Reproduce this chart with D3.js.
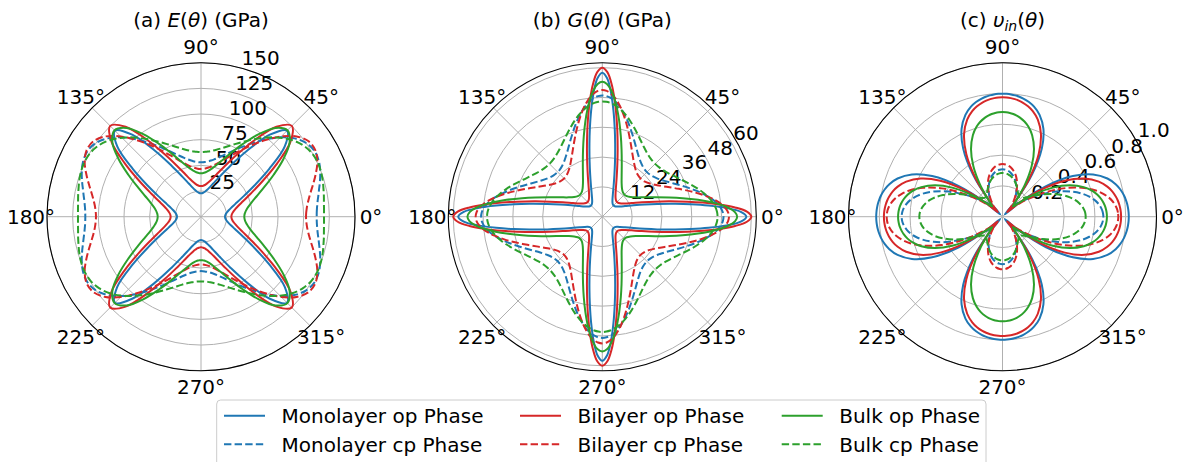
<!DOCTYPE html>
<html>
<head>
<meta charset="utf-8">
<script src="https://cdn.jsdelivr.net/npm/d3@7"></script>
<style>
body { margin: 0; background: #ffffff; }
svg { display: block; font-family: "DejaVu Sans", sans-serif; }
</style>
</head>
<body>
<svg id="chart" width="1184" height="462"></svg>
<script>
// Polar plots of E, G and in-plane Poisson ratio for the six phases.
// The curves are mirror symmetric about both axes, so only 0-90 deg is listed.

var angles = [0, 2, 4, 6, 8, 10, 13, 16, 20, 25, 30, 35, 40, 45, 50, 55, 60, 65, 70, 74, 77, 80, 82, 84, 86, 88, 90];

// (a) Young's modulus, GPa
var youngMonoOp = [23.4, 23.49, 23.77, 24.25, 24.93, 25.85, 27.71, 30.27, 35.13, 44.49, 59.27, 81.16, 106.5, 118.5, 104.3, 78.7, 57.36, 43.1, 34.1, 29.42, 26.95, 25.16, 24.28, 23.62, 23.16, 22.89, 22.8];
var youngMonoCp = [112.7, 112.8, 113.2, 113.9, 114.8, 116.0, 118.0, 120.4, 123.6, 126.8, 127.7, 125.1, 118.7, 109.3, 98.4, 87.6, 77.94, 69.86, 63.5, 59.58, 57.29, 55.51, 54.6, 53.89, 53.4, 53.1, 53.0];
var youngBiOp = [29.6, 29.71, 30.04, 30.61, 31.42, 32.5, 34.68, 37.65, 43.2, 53.55, 69.1, 90.6, 113.8, 125.1, 114.3, 91.2, 69.6, 53.97, 43.53, 37.93, 34.92, 32.72, 31.63, 30.82, 30.25, 29.91, 29.8];
var youngBiCp = [102.3, 102.5, 103.1, 104.0, 105.3, 106.9, 109.9, 113.5, 118.7, 125.0, 128.8, 128.0, 121.6, 110.5, 97.4, 84.6, 73.4, 64.35, 57.44, 53.3, 50.9, 49.07, 48.13, 47.41, 46.9, 46.6, 46.5];
var youngBulkOp = [42.2, 42.33, 42.73, 43.41, 44.37, 45.64, 48.17, 51.53, 57.52, 67.89, 81.73, 98.03, 112.7, 119.0, 112.9, 98.22, 81.92, 68.06, 57.67, 51.66, 48.28, 45.75, 44.48, 43.51, 42.84, 42.43, 42.3];
var youngBulkCp = [119.8, 119.9, 120.1, 120.4, 120.9, 121.5, 122.4, 123.5, 124.7, 125.4, 124.4, 121.3, 116.0, 108.8, 100.7, 92.4, 84.7, 78.04, 72.54, 69.06, 66.98, 65.34, 64.5, 63.84, 63.37, 63.1, 63.0];

// (b) shear modulus, GPa
var shearMonoOp = [58.0, 55.8, 50.15, 42.98, 35.93, 29.8, 22.71, 17.73, 13.36, 10.09, 8.21, 7.12, 6.56, 6.38, 6.56, 7.12, 8.21, 10.09, 13.36, 17.73, 22.71, 29.8, 35.93, 42.98, 50.15, 55.8, 58.0];
var shearMonoCp = [48.8, 48.58, 47.94, 46.93, 45.61, 44.05, 41.46, 38.77, 35.35, 31.68, 28.86, 26.91, 25.78, 25.4, 25.78, 26.91, 28.86, 31.68, 35.35, 38.77, 41.46, 44.05, 45.61, 46.93, 47.94, 48.58, 48.8];
var shearBiOp = [60.0, 58.25, 53.6, 47.38, 40.87, 34.87, 27.47, 21.97, 16.92, 13.0, 10.67, 9.31, 8.6, 8.38, 8.6, 9.31, 10.67, 13.0, 16.92, 21.97, 27.47, 34.87, 40.87, 47.38, 53.6, 58.25, 60.0];
var shearBiCp = [51.0, 50.67, 49.7, 48.2, 46.27, 44.07, 40.52, 37.02, 32.78, 28.5, 25.39, 23.31, 22.13, 21.75, 22.13, 23.31, 25.39, 28.5, 32.78, 37.02, 40.52, 44.07, 46.27, 48.2, 49.7, 50.67, 51.0];
var shearBulkOp = [54.3, 53.44, 51.02, 47.49, 43.37, 39.13, 33.17, 28.12, 22.91, 18.44, 15.57, 13.83, 12.88, 12.58, 12.88, 13.83, 15.57, 18.44, 22.91, 28.12, 33.17, 39.13, 43.37, 47.49, 51.02, 53.44, 54.3];
var shearBulkCp = [46.4, 46.28, 45.92, 45.34, 44.56, 43.63, 42.02, 40.27, 37.91, 35.2, 32.99, 31.38, 30.41, 30.09, 30.41, 31.38, 32.99, 35.2, 37.91, 40.27, 42.02, 43.63, 44.56, 45.34, 45.92, 46.28, 46.4];

// (c) in-plane Poisson ratio
var poissonMonoOp = [0.82, 0.8192, 0.8169, 0.8132, 0.8076, 0.8004, 0.7854, 0.7644, 0.7251, 0.6489, 0.5274, 0.3458, 0.1314, 0.0217, 0.1287, 0.3353, 0.5104, 0.6287, 0.7038, 0.743, 0.7639, 0.7791, 0.7865, 0.7921, 0.796, 0.7982, 0.799];
var poissonMonoCp = [0.655, 0.653, 0.6476, 0.6388, 0.6261, 0.6102, 0.5788, 0.5402, 0.4775, 0.3859, 0.2903, 0.2059, 0.1467, 0.1196, 0.1216, 0.1442, 0.1772, 0.2126, 0.2453, 0.2673, 0.281, 0.292, 0.2978, 0.3022, 0.3055, 0.3074, 0.308];
var poissonBiOp = [0.77, 0.7692, 0.7665, 0.7623, 0.756, 0.7479, 0.7311, 0.708, 0.6655, 0.5862, 0.4669, 0.3028, 0.1267, 0.0423, 0.1272, 0.3048, 0.4703, 0.5908, 0.6706, 0.7132, 0.7361, 0.7529, 0.7611, 0.7675, 0.7719, 0.7743, 0.7752];
var poissonBiCp = [0.752, 0.7502, 0.7447, 0.7349, 0.7213, 0.7034, 0.6686, 0.6241, 0.5492, 0.4353, 0.3099, 0.1957, 0.1163, 0.0836, 0.0931, 0.1294, 0.1766, 0.2241, 0.2658, 0.2931, 0.3097, 0.3229, 0.3297, 0.335, 0.3388, 0.3411, 0.3418];
var poissonBulkOp = [0.678, 0.677, 0.6739, 0.6688, 0.6614, 0.6518, 0.6326, 0.607, 0.5613, 0.4826, 0.3774, 0.2537, 0.1423, 0.0954, 0.1426, 0.2542, 0.3783, 0.4838, 0.5628, 0.6086, 0.6341, 0.6534, 0.663, 0.6703, 0.6756, 0.6785, 0.6796];
var poissonBulkCp = [0.54, 0.5388, 0.5346, 0.5276, 0.5182, 0.5062, 0.4831, 0.4555, 0.4116, 0.3504, 0.2882, 0.234, 0.1943, 0.1727, 0.1687, 0.1782, 0.1962, 0.218, 0.2395, 0.2547, 0.2644, 0.2722, 0.2764, 0.2797, 0.2821, 0.2836, 0.284];

var thetaTicks = [0, 45, 90, 135, 180, 225, 270, 315];
var youngTicks = [25, 50, 75, 100, 125, 150];
var shearTicks = [12, 24, 36, 48, 60];
var poissonTicks = [0.2, 0.4, 0.6, 0.8, 1.0];
var seriesNames = ["Monolayer op Phase", "Monolayer cp Phase", "Bilayer op Phase", "Bilayer cp Phase", "Bulk op Phase", "Bulk cp Phase"];

// ---------

var BLUE = "#1f77b4", RED = "#d62728", GREEN = "#2ca02c";
var LINE_STYLES = [
    {color: BLUE, dash: null}, {color: BLUE, dash: "7.4,3.2"},
    {color: RED, dash: null}, {color: RED, dash: "7.4,3.2"},
    {color: GREEN, dash: null}, {color: GREEN, dash: "7.4,3.2"}
];
var FONT_SIZE = 20;
var RADIUS = 154;
var CENTER_Y = 216.7;

var svg = d3.select("#chart");
svg.append("rect").attr("width", 1184).attr("height", 462).attr("fill", "#ffffff");

// theta in degrees counter-clockwise from east -> d3 radial angle
var angleScale = d3.scaleLinear().domain([0, 360]).range([Math.PI / 2, Math.PI / 2 - 2 * Math.PI]);

// unfold the 0-90 deg values into a closed 0-360 deg loop
function fullCircle(values) {
    var pts = [], i, n = angles.length;
    for (i = 0; i < n; i++) pts.push([angles[i], values[i]]);
    for (i = n - 2; i >= 0; i--) pts.push([180 - angles[i], values[i]]);
    for (i = 1; i < n; i++) pts.push([180 + angles[i], values[i]]);
    for (i = n - 2; i > 0; i--) pts.push([360 - angles[i], values[i]]);
    return pts;
}

function PolarPanel(cx, rMax) {
    this.g = svg.append("g").attr("transform", "translate(" + cx + "," + CENTER_Y + ")");
    this.r = d3.scaleLinear().domain([0, rMax]).range([0, RADIUS]);
}

PolarPanel.prototype.drawGrid = function(ticks, labelAngle, fmt) {
    var r = this.r, g = this.g;
    g.selectAll("circle.ring").data(ticks).enter().append("circle")
        .attr("class", "ring")
        .attr("r", function(d) { return r(d); })
        .attr("fill", "none").attr("stroke", "#b0b0b0").attr("stroke-width", 1);
    g.selectAll("line.spoke").data(thetaTicks).enter().append("line")
        .attr("class", "spoke")
        .attr("x2", function(d) { return d3.pointRadial(angleScale(d), RADIUS)[0]; })
        .attr("y2", function(d) { return d3.pointRadial(angleScale(d), RADIUS)[1]; })
        .attr("stroke", "#b0b0b0").attr("stroke-width", 1);
    g.append("circle").attr("r", RADIUS)
        .attr("fill", "none").attr("stroke", "#000000").attr("stroke-width", 1.1);

    // angle labels
    g.selectAll("text.theta").data(thetaTicks).enter().append("text")
        .attr("class", "theta")
        .attr("x", function(d) { return d3.pointRadial(angleScale(d), RADIUS + 16)[0]; })
        .attr("y", function(d) { return d3.pointRadial(angleScale(d), RADIUS + 16)[1]; })
        .attr("dy", "0.37em")
        .attr("text-anchor", "middle")
        .attr("font-size", FONT_SIZE)
        .text(function(d) { return d + "\u00b0"; });

    // radial labels, drawn under the curves
    g.selectAll("text.rlab").data(ticks).enter().append("text")
        .attr("class", "rlab")
        .attr("x", function(d) { return d3.pointRadial(angleScale(labelAngle), r(d))[0] + 2; })
        .attr("y", function(d) { return d3.pointRadial(angleScale(labelAngle), r(d))[1] - 2.5; })
        .attr("font-size", FONT_SIZE)
        .text(fmt);
};

PolarPanel.prototype.drawCurves = function(seriesList) {
    var r = this.r;
    var line = d3.lineRadial()
        .angle(function(d) { return angleScale(d[0]); })
        .radius(function(d) { return r(d[1]); })
        .curve(d3.curveCatmullRomClosed.alpha(0.5));
    this.g.selectAll("path.curve").data(seriesList).enter().append("path")
        .attr("class", "curve")
        .attr("d", function(d) { return line(fullCircle(d)); })
        .attr("fill", "none")
        .attr("stroke", function(d, i) { return LINE_STYLES[i].color; })
        .attr("stroke-dasharray", function(d, i) { return LINE_STYLES[i].dash; })
        .attr("stroke-width", 2);
};

// parts: [text, kind] where kind is "i" (italic), "sub" (italic subscript) or empty
PolarPanel.prototype.drawTitle = function(parts) {
    var t = this.g.append("text")
        .attr("y", 27 - CENTER_Y)
        .attr("text-anchor", "middle")
        .attr("font-size", FONT_SIZE);
    var shifted = false;
    parts.forEach(function(p) {
        var span = t.append("tspan").text(p[0]);
        if (p[1] === "i" || p[1] === "sub") span.attr("font-style", "italic");
        if (p[1] === "sub") { span.attr("font-size", 14).attr("dy", 4); shifted = true; }
        else if (shifted) { span.attr("dy", -4); shifted = false; }
    });
};

var panelA = new PolarPanel(201, 150);
panelA.drawGrid(youngTicks, 75.5, function(d) { return d; });
panelA.drawCurves([youngMonoOp, youngMonoCp, youngBiOp, youngBiCp, youngBulkOp, youngBulkCp]);
panelA.drawTitle([["(a) "], ["E", "i"], ["("], ["\u03b8", "i"], [") (GPa)"]]);

var panelB = new PolarPanel(602.3, 62);
panelB.drawGrid(shearTicks, 30, function(d) { return d; });
panelB.drawCurves([shearMonoOp, shearMonoCp, shearBiOp, shearBiCp, shearBulkOp, shearBulkCp]);
panelB.drawTitle([["(b) "], ["G", "i"], ["("], ["\u03b8", "i"], [") (GPa)"]]);

var panelC = new PolarPanel(1002.5, 1.0);
panelC.drawGrid(poissonTicks, 30, d3.format(".1f"));
panelC.drawCurves([poissonMonoOp, poissonMonoCp, poissonBiOp, poissonBiCp, poissonBulkOp, poissonBulkCp]);
panelC.drawTitle([["(c) "], ["\u03c5", "i"], ["in", "sub"], ["("], ["\u03b8", "i"], [")"]]);

// legend, filled column by column like matplotlib with ncol=3
var legend = svg.append("g");
legend.append("rect")
    .attr("x", 216.7).attr("y", 400).attr("width", 769.3).attr("height", 66)
    .attr("rx", 4).attr("fill", "#ffffff").attr("fill-opacity", 0.8)
    .attr("stroke", "#cccccc").attr("stroke-width", 1);
var colX = [224, 520, 781.7];
var rowY = [415.7, 444.3];
var items = legend.selectAll("g.item").data(seriesNames).enter().append("g")
    .attr("class", "item")
    .attr("transform", function(d, i) {
        return "translate(" + colX[Math.floor(i / 2)] + "," + rowY[i % 2] + ")";
    });
items.append("line")
    .attr("x2", 41)
    .attr("stroke", function(d, i) { return LINE_STYLES[i].color; })
    .attr("stroke-dasharray", function(d, i) { return LINE_STYLES[i].dash; })
    .attr("stroke-width", 2);
items.append("text")
    .attr("x", 57.5).attr("dy", "0.37em")
    .attr("font-size", FONT_SIZE)
    .text(function(d) { return d; });
</script>
</body>
</html>
